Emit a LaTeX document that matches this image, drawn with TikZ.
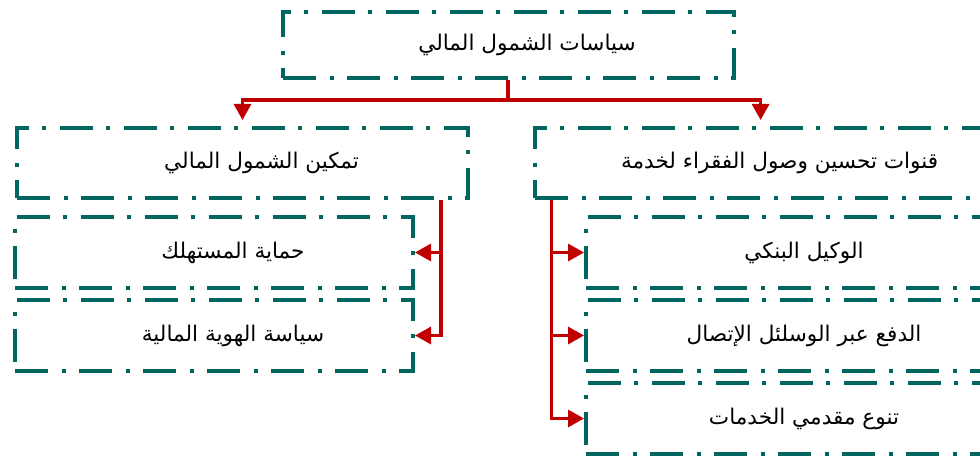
\documentclass[tikz,border=0pt]{standalone}
\usepackage{fontspec}
\newfontfamily\arabicfont[Script=Arabic]{DejaVu Sans}
\TeXXeTstate=1
\usetikzlibrary{arrows.meta,positioning,calc}
\definecolor{boxteal}{HTML}{00665F}
\definecolor{linkred}{HTML}{C00000}
% right-to-left label, nudged a little off centre
\newcommand{\artext}[1]{\hspace*{19pt}\arabicfont\beginR #1\endR}

\begin{document}
\begin{tikzpicture}[x=10pt, y=10pt,
    box/.style={draw=boxteal, line width=2pt, line cap=butt,
        dash pattern=on 16.5pt off 7pt on 2pt off 6.5pt,
        minimum width=225.5pt, minimum height=35pt, inner sep=0pt,
        font=\fontsize{10.8}{13}\selectfont},
    subbox/.style={box, minimum width=199pt, minimum height=35.5pt},
    link/.style={draw=linkred, line width=1.6pt, -{Triangle[length=8pt,width=8.5pt]}}]
    \useasboundingbox (0,0) rectangle (49,23);

    % Top level
    \node[box, minimum height=33pt] (incl) at (25.4,20.75) {\artext{سياسات الشمول المالي}};

    % Second level
    \node[box] (enable) at (12.125,14.85) {\artext{تمكين الشمول المالي}};
    \node[box] (access) at (38.03,14.85) {\artext{قنوات تحسين وصول الفقراء لخدمة}};

    % Left branch
    \node[subbox] (protect) at (10.7,10.375) {\artext{حماية المستهلك}};
    \node[subbox, below=4pt of protect] (identity) {\artext{سياسة الهوية المالية}};

    % Right branch
    \node[subbox] (agent) at (39.25,10.375) {\artext{الوكيل البنكي}};
    \node[subbox, below=4pt of agent] (payment) {\artext{الدفع عبر الوسلئل الإتصال}};
    \node[subbox, below=4pt of payment] (variety) {\artext{تنوع مقدمي الخدمات}};

    % Fork from the top box
    \coordinate (fork) at ($(incl.south)+(0,-1)$);
    \draw[link, -] (incl.south) -- (fork);
    \draw[link, shorten >=3pt] (fork) -| (enable.north);
    \draw[link, shorten >=3pt] (fork) -| (access.north);

    % Trunks down to the sub boxes
    \coordinate (ltrunk) at ($(enable.south east)+(-1.45,0)$);
    \draw[link] (ltrunk) |- (protect.east);
    \draw[link] (ltrunk) |- (identity.east);

    \coordinate (rtrunk) at ($(access.south west)+(0.9,0)$);
    \draw[link] (rtrunk) |- (agent.west);
    \draw[link] (rtrunk) |- (payment.west);
    \draw[link] (rtrunk) |- (variety.west);
\end{tikzpicture}
\end{document}
